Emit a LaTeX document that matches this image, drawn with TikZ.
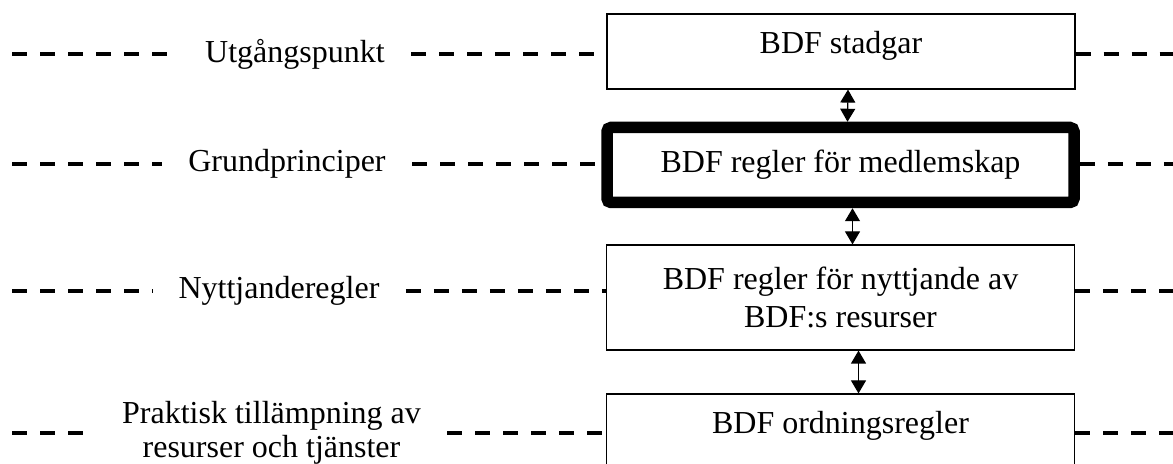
\documentclass[tikz,border=0pt]{standalone}
\usepackage{fontspec}
\setmainfont{Liberation Serif}
\usetikzlibrary{arrows.meta}

\begin{document}
\begin{tikzpicture}[
        x=0.5pt, y=-0.5pt,
        box/.style={draw, line width=0.6pt, minimum width=234pt, minimum height=37.5pt, align=center, font=\fontsize{16pt}{19pt}\selectfont},
        mainbox/.style={box, line width=5.75pt, minimum width=233.5pt, rounded corners=2pt},
        raised/.style={text height=11pt, text depth=8.5pt},
        lbl/.style={inner xsep=13pt, inner ysep=2pt, align=center, font=\fontsize{16pt}{17pt}\selectfont},
        dashline/.style={line width=1.8pt, dash pattern=on 7.5pt off 6.5pt},
        arrow/.style={arrows={Triangle[length=6.5pt, width=7.5pt]-Triangle[length=6.5pt, width=7.5pt]}, line width=0.6pt}
    ]
        \useasboundingbox (0,0) rectangle (1173,464);

        % Boxes
        \node[box, raised] (stadgar) at (841, 51.5) {BDF stadgar};
        \node[mainbox] (medlem) at (840.5, 165) {BDF regler för medlemskap};
        \node[box, minimum height=52.5pt] (nytt) at (840.5, 297.5) {BDF regler för nyttjande av\\BDF:s resurser};
        \node[box, raised] (ordning) at (840.5, 431.5) {BDF ordningsregler};

        % Level labels
        \node[lbl] (utg) at (295, 54) {Utgångspunkt};
        \node[lbl] (grund) at (287, 164) {Grundprinciper};
        \node[lbl] (nyttl) at (279, 291) {Nyttjanderegler};
        \node[lbl] (prakt) at (271.5, 433) {Praktisk tillämpning av\\resurser och tjänster};

        % Line ends
        \coordinate (L1) at (12, 54);   \coordinate (R1) at (1180, 54);
        \coordinate (L2) at (12, 164);  \coordinate (R2) at (1180, 164);
        \coordinate (L3) at (12, 291);  \coordinate (R3) at (1180, 291);
        \coordinate (L4) at (12, 433);  \coordinate (R4) at (1180, 433);

        % Dashed level lines
        \draw[dashline] (L1) -- (utg); \draw[dashline] (utg) -- (utg -| stadgar.west); \draw[dashline] (stadgar.east |- R1) -- (R1);
        \draw[dashline] (L2) -- (grund); \draw[dashline] (grund) -- (grund -| medlem.west); \draw[dashline] (medlem.east |- R2) -- (R2);
        \draw[dashline] (L3) -- (nyttl); \draw[dashline] (nyttl) -- (nyttl -| nytt.west); \draw[dashline] (nytt.east |- R3) -- (R3);
        \draw[dashline] (L4) -- (prakt); \draw[dashline] (prakt) -- (prakt -| ordning.west); \draw[dashline] (ordning.east |- R4) -- (R4);

        % Arrows
        \draw[arrow] ([xshift=3.5pt]stadgar.south) -- ([xshift=3.5pt]medlem.north);
        \draw[arrow] ([xshift=6pt]medlem.south) -- ([xshift=6pt]nytt.north);
        \draw[arrow] ([xshift=9pt]nytt.south) -- ([xshift=9pt]ordning.north);

    \end{tikzpicture}
\end{document}
